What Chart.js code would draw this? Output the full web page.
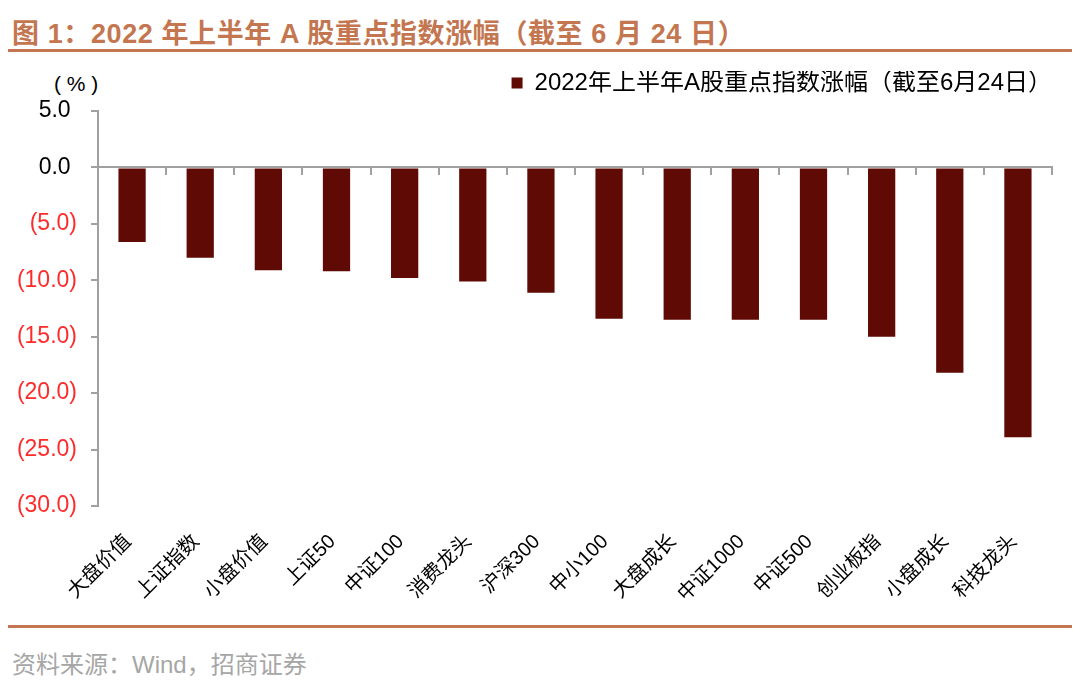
<!DOCTYPE html>
<html>
<head>
<meta charset="utf-8">
<title>2022年上半年A股重点指数涨幅</title>
<script src="https://cdn.jsdelivr.net/npm/chart.js@4.4.1/dist/chart.umd.min.js"></script>
<style>
  body { margin: 0; width: 1080px; height: 685px; background: #fff; position: relative; overflow: hidden;
         font-family: "Liberation Sans", "Noto Sans CJK SC", sans-serif; }
  #title { position: absolute; left: 12px; top: 12px; font-size: 27px; letter-spacing: 0.6px; font-weight: bold; color: #c3764f; white-space: nowrap; }
  .rule { position: absolute; left: 8px; width: 1064px; height: 3px; background: #c3764f; }
  #unit { position: absolute; left: 54px; top: 72px; font-size: 21px; color: #000; white-space: pre; }
  #source { position: absolute; left: 12px; top: 645px; font-size: 24px; color: #a6a6a6; white-space: nowrap; }
  #wrap { position: absolute; left: 0; top: 60px; width: 1080px; height: 560px; }
</style>
</head>
<body>
<div id="title">图 1：2022 年上半年 A 股重点指数涨幅（截至 6 月 24 日）</div>
<div class="rule" style="top:49px"></div>
<div id="unit">( % )</div>
<div id="wrap"><canvas id="chart"></canvas></div>
<div class="rule" style="top:625px"></div>
<div id="source">资料来源：Wind，招商证券</div>

<script>
// 2022 H1 A-share index returns (%), as of Jun 24
const SERIES_NAME = '2022年上半年A股重点指数涨幅（截至6月24日）';
const INDEX_NAMES = ['大盘价值', '上证指数', '小盘价值', '上证50', '中证100', '消费龙头', '沪深300',
  '中小100', '大盘成长', '中证1000', '中证500', '创业板指', '小盘成长', '科技龙头'];
const RETURNS = [-6.6, -8.0, -9.1, -9.2, -9.8, -10.1, -11.1, -13.4, -13.5, -13.5, -13.5, -15.0, -18.2, -23.9];
const Y_MIN = -30;
const Y_MAX = 5;
const Y_STEP = 5;

const BAR = '#5f0a05';
const AXIS = '#a0a0a0';
const NEG_RED = '#ff2a2a';
const FONT = '"Liberation Sans", "Noto Sans CJK SC", sans-serif';

// Excel-style accounting format: negatives in brackets, positives padded
function fmtTick(v) {
  return v < 0 ? `(${(-v).toFixed(1)})` : `${v.toFixed(1)} `;
}

// leave a bit more room between the legend and the plot
const legendGap = {
  id: 'legendGap',
  afterInit(chart) {
    const lg = chart.legend;
    if (!lg) return;
    const fit = lg.fit;
    lg.fit = function () { fit.call(this); this.height += 6; };
  },
};

new Chart(document.getElementById('chart'), {
  type: 'bar',
  data: {
    labels: INDEX_NAMES,
    datasets: [{
      label: SERIES_NAME,
      data: RETURNS,
      backgroundColor: BAR,
      borderWidth: 0,
      barPercentage: 0.4,
      categoryPercentage: 1,
    }],
  },
  plugins: [legendGap],
  options: {
    responsive: true,
    maintainAspectRatio: false,
    animation: false,
    layout: { padding: { top: 11, right: 28, left: 0, bottom: 0 } },
    plugins: {
      tooltip: { enabled: false },
      legend: {
        position: 'top',
        align: 'end',
        labels: {
          color: '#000',
          font: { family: FONT, size: 24 },
          boxWidth: 11,
          boxHeight: 11,
          padding: 0,
        },
      },
    },
    scales: {
      x: {
        position: 'bottom',
        grid: { display: false, drawTicks: false },
        border: { display: false },
        ticks: {
          color: '#000',
          font: { family: FONT, size: 20 },
          minRotation: 45,
          maxRotation: 45,
          autoSkip: false,
          padding: 20,
          callback: function (v) { return this.getLabelForValue(v) + ' '; },
        },
        afterFit: s => { s.height = 114; },
      },
      // axis line along zero with tick marks between categories
      x2: {
        type: 'category',
        position: { y: 0 },
        offset: true,
        grid: { offset: true, drawOnChartArea: false, drawTicks: true, tickLength: 7, color: AXIS, lineWidth: 2 },
        border: { display: true, color: AXIS, width: 2 },
        ticks: { display: false },
      },
      y: {
        min: Y_MIN,
        max: Y_MAX,
        grid: { drawOnChartArea: false, drawTicks: true, tickLength: 7, color: AXIS, lineWidth: 2 },
        border: { display: true, color: AXIS, width: 2 },
        ticks: {
          stepSize: Y_STEP,
          padding: 14,
          font: { family: FONT, size: 23 },
          color: ctx => (ctx.tick.value < 0 ? NEG_RED : '#000'),
          callback: v => fmtTick(v),
        },
        afterFit: s => { s.width = 98; },
      },
    },
  },
});
</script>
</body>
</html>
